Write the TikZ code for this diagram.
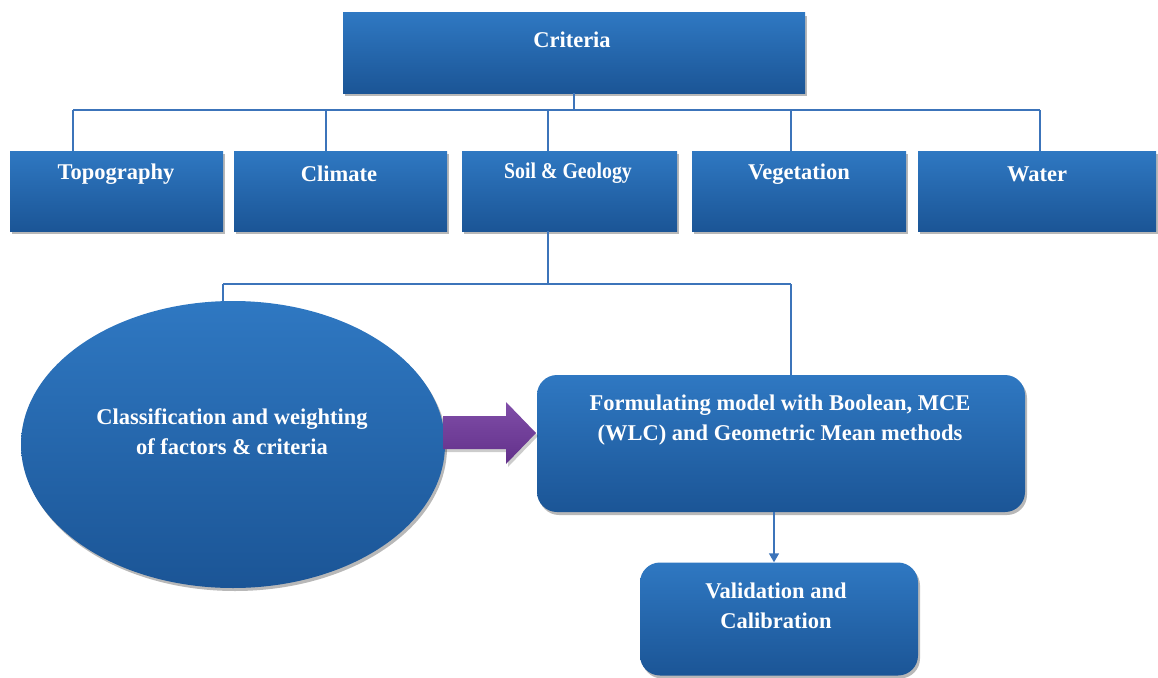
\documentclass[tikz,border=0pt]{standalone}
\usepackage{fontspec}
\setmainfont{Liberation Serif}
\usetikzlibrary{shadows,shapes.geometric,arrows.meta}
\definecolor{btop}{RGB}{47,120,194}
\definecolor{bbot}{RGB}{27,85,150}
\definecolor{lineblue}{RGB}{60,116,186}
\definecolor{ptop}{RGB}{128,78,168}
\definecolor{pbot}{RGB}{98,48,138}
\tikzset{
  box/.style={rectangle, top color=btop, bottom color=bbot, draw=none, inner sep=0pt,
    drop shadow={shadow xshift=2pt, shadow yshift=-3pt, fill=black, opacity=0.28}},
  rbox/.style={box, rounded corners=20pt},
  lbl/.style={text=white, font=\bfseries\fontsize{22.5}{30}\selectfont, align=center, inner sep=0pt},
  conn/.style={draw=lineblue, line width=1.5pt},
}
\begin{document}
\begin{tikzpicture}[x=1pt,y=-1pt]
\useasboundingbox (0,0) rectangle (1158,677);
% top
\node[box, minimum width=462pt, minimum height=80pt] (crit) at (574,53) {};
\node[lbl] (critT) at (572,40) {Criteria};
% second row
\node[box, minimum width=213pt, minimum height=80pt] (topo) at (116.5,191) {};
\node[box, minimum width=213pt, minimum height=80pt] (clim) at (340.5,191) {};
\node[box, minimum width=215pt, minimum height=80pt] (soil) at (569.5,191) {};
\node[box, minimum width=214pt, minimum height=80pt] (veg) at (799,191) {};
\node[box, minimum width=238pt, minimum height=80pt] (wat) at (1037,191) {};
\node[lbl] (topoT) at (116,174) {Topography};
\node[lbl] (climT) at (339,174) {Climate};
\node[lbl] (soilT) at (568,173) {\scalebox{0.88}[1]{Soil \& Geology}};
\node[lbl] (vegT) at (799,174) {Vegetation};
\node[lbl] (watT) at (1037,174) {Water};
% bus
\coordinate (hub) at (574,110);
\coordinate (j1) at (73,110);
\coordinate (j2) at (326,110);
\coordinate (j3) at (548,110);
\coordinate (j4) at (791,110);
\coordinate (j5) at (1040,110);
\draw[conn] (crit.south) -- (hub);
\draw[conn] (j1) -- (j5);
\draw[conn] (j1) -- (j1 |- topo.north);
\draw[conn] (j2) -- (j2 |- clim.north);
\draw[conn] (j3) -- (j3 |- soil.north);
\draw[conn] (j4) -- (j4 |- veg.north);
\draw[conn] (j5) -- (j5 |- wat.north);
% lower part
\node[ellipse, top color=btop, bottom color=bbot, inner sep=0pt, minimum width=424pt, minimum height=287pt,
  drop shadow={shadow xshift=2pt, shadow yshift=-3pt, fill=black, opacity=0.28}] (ell) at (233,444.5) {};
\node[lbl] (ellT) at (232,432) {Classification and weighting\\of factors \& criteria};
\node[rbox, minimum width=488pt, minimum height=137pt] (form) at (781,443.5) {};
\node[lbl] (formT) at (780,420) {Formulating model with Boolean, MCE\\(WLC) and Geometric Mean methods};
\node[rbox, minimum width=278pt, minimum height=113pt] (val) at (779,619) {};
\node[lbl] (valT) at (776,606) {Validation and\\Calibration};
\coordinate (s1) at (548,284);
\coordinate (s2) at (223,284);
\coordinate (s3) at (791,284);
\draw[conn] (s1 |- soil.south) -- (s1);
\draw[conn] (s2) -- (s3);
\draw[conn] (s2) -- (s2 |- ell.north);
\draw[conn] (s3) -- (s3 |- form.north);
% purple block arrow
\shade[top color=ptop, bottom color=pbot, drop shadow={shadow xshift=2pt, shadow yshift=-3pt, fill=black, opacity=0.2}]
  (443,416) -- (506,416) -- (506,402) -- (536,433) -- (506,464) -- (506,449) -- (443,449) -- cycle;
% down arrow
\coordinate (d1) at (774,512);
\draw[conn, -{Triangle[length=9pt,width=10pt]}] (d1 |- form.south) -- (d1 |- val.north);
\end{tikzpicture}
\end{document}
